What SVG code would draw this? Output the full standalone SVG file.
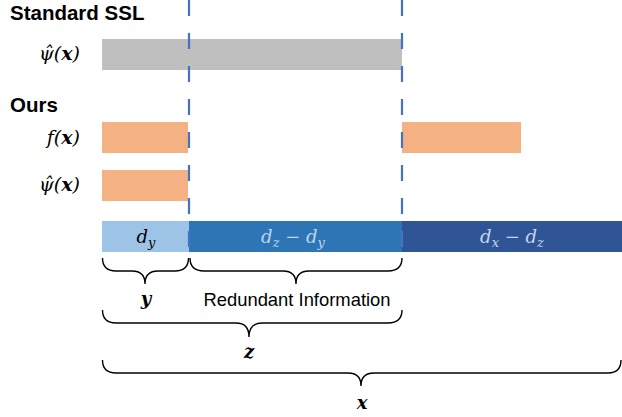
<svg xmlns="http://www.w3.org/2000/svg" width="622" height="417" viewBox="0 0 622 417">
<style>
.title{font-family:"Liberation Sans",Arial,sans-serif;font-weight:bold;font-size:20.5px;fill:#000}
.math{font-family:"DejaVu Serif","Liberation Serif",serif;font-style:italic;font-size:18px;fill:#000}
.lm{font-size:19px}
.bx{font-weight:bold}
.sub{font-size:13px}
.lbl{font-family:"Liberation Sans",Arial,sans-serif;font-size:18.4px;fill:#000}
.brace{fill:none;stroke:#000;stroke-width:1.4}
.dash{stroke:#4472C4;stroke-width:2.2;stroke-dasharray:16 17}
</style>
<rect width="622" height="417" fill="#fff"/>
<g id="title-standard"><text class="title" x="10" y="20">Standard SSL</text></g>
<g id="title-ours"><text class="title" x="10" y="112">Ours</text></g>
<g id="std-psi">
<text class="math lm" x="80" y="60" text-anchor="end">ψ̂(<tspan class="bx">x</tspan>)</text>
<rect x="102" y="39" width="300" height="31" fill="#BFBFBF"/>
</g>
<g id="ours-f">
<text class="math lm" x="80" y="144" text-anchor="end">f(<tspan class="bx">x</tspan>)</text>
<rect x="102" y="122" width="86" height="31" fill="#F4B183"/>
<rect x="402" y="122" width="119" height="31" fill="#F4B183"/>
</g>
<g id="ours-psi">
<text class="math lm" x="80" y="191" text-anchor="end">ψ̂(<tspan class="bx">x</tspan>)</text>
<rect x="102" y="170" width="86" height="31" fill="#F4B183"/>
</g>
<g id="dims">
<rect x="102" y="221" width="87" height="31" fill="#9DC3E6"/>
<rect x="189" y="221" width="213" height="31" fill="#2E75B6"/>
<rect x="402" y="221" width="220" height="31" fill="#2F5597"/>
<text class="math" x="146" y="243" text-anchor="middle" fill="#1a1a1a">d<tspan class="sub" dy="4">y</tspan></text>
<text class="math" x="293" y="243" text-anchor="middle" style="fill:#BDD7EE">d<tspan class="sub" dy="4">z</tspan><tspan dy="-4"> − d</tspan><tspan class="sub" dy="4">y</tspan></text>
<text class="math" x="512" y="243" text-anchor="middle" style="fill:#C9D6EE">d<tspan class="sub" dy="4">x</tspan><tspan dy="-4"> − d</tspan><tspan class="sub" dy="4">z</tspan></text>
</g>
<g id="connectors">
<line class="dash" x1="189" y1="0" x2="189" y2="248"/>
<line class="dash" x1="402" y1="0" x2="402" y2="248"/>
<path class="brace" d="M102.5,258 Q102.5,271 116,271 L132,271 Q145,271 145,284 Q145,271 158,271 L175,271 Q188.5,271 188.5,258"/>
<path class="brace" d="M190,258 Q190,271 204,271 L283,271 Q296,271 296,284 Q296,271 309,271 L388,271 Q402,271 402,258"/>
<path class="brace" d="M102.5,310 Q102.5,323 116,323 L236,323 Q249,323 249,337 Q249,323 262,323 L388,323 Q402,323 402,310"/>
<path class="brace" d="M102.5,360 Q102.5,373 116,373 L348,373 Q361,373 361,386 Q361,373 374,373 L608,373 Q621,373 621,360"/>
</g>
<g id="brace-labels">
<text class="math bx" x="146" y="305" text-anchor="middle">y</text>
<text class="lbl" x="297" y="306" text-anchor="middle">Redundant Information</text>
<text class="math bx" x="249" y="358" text-anchor="middle">z</text>
<text class="math bx" x="362" y="409" text-anchor="middle">x</text>
</g>
</svg>
